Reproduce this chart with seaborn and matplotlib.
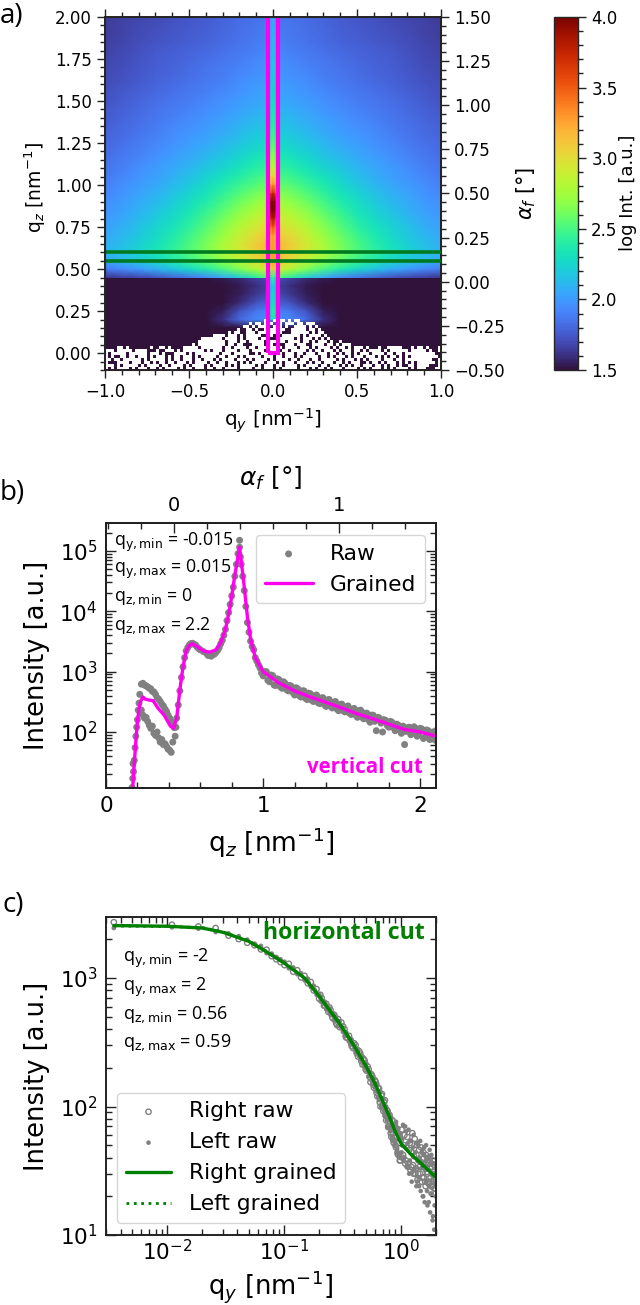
import numpy as np
import matplotlib
matplotlib.use("Agg")
import matplotlib.pyplot as plt
import seaborn as sns

from matplotlib.colors import ListedColormap
from matplotlib.patches import Rectangle
from matplotlib.ticker import MultipleLocator, LogLocator, NullFormatter

W, H = 640, 1305

# panel a: log intensity, columns |qy| = 0, 0.1 ... 1.0, rows qz = 2.00 ... 0.45
map_upper = [
    [1.86, 1.84, 1.82, 1.79, 1.76, 1.74, 1.72, 1.70, 1.68, 1.66, 1.64],
    [1.88, 1.86, 1.83, 1.80, 1.77, 1.75, 1.73, 1.71, 1.69, 1.67, 1.65],
    [1.90, 1.87, 1.84, 1.81, 1.78, 1.76, 1.74, 1.72, 1.70, 1.67, 1.65],
    [1.91, 1.88, 1.85, 1.82, 1.79, 1.77, 1.75, 1.73, 1.71, 1.68, 1.66],
    [1.93, 1.90, 1.87, 1.84, 1.81, 1.79, 1.77, 1.75, 1.72, 1.69, 1.67],
    [1.95, 1.92, 1.89, 1.86, 1.83, 1.80, 1.78, 1.76, 1.73, 1.70, 1.68],
    [1.97, 1.94, 1.91, 1.88, 1.85, 1.82, 1.79, 1.77, 1.74, 1.71, 1.69],
    [1.99, 1.96, 1.93, 1.89, 1.86, 1.83, 1.80, 1.78, 1.75, 1.72, 1.70],
    [2.02, 1.99, 1.95, 1.91, 1.88, 1.85, 1.82, 1.79, 1.76, 1.73, 1.71],
    [2.05, 2.01, 1.97, 1.93, 1.90, 1.87, 1.84, 1.81, 1.78, 1.75, 1.72],
    [2.08, 2.04, 2.00, 1.96, 1.92, 1.89, 1.86, 1.83, 1.80, 1.76, 1.73],
    [2.12, 2.07, 2.03, 1.98, 1.94, 1.91, 1.88, 1.85, 1.81, 1.78, 1.75],
    [2.15, 2.11, 2.06, 2.01, 1.97, 1.93, 1.90, 1.86, 1.83, 1.79, 1.76],
    [2.19, 2.15, 2.09, 2.04, 1.99, 1.95, 1.92, 1.88, 1.84, 1.81, 1.78],
    [2.23, 2.19, 2.13, 2.07, 2.02, 1.98, 1.94, 1.90, 1.86, 1.82, 1.79],
    [2.28, 2.23, 2.17, 2.11, 2.05, 2.01, 1.96, 1.92, 1.88, 1.84, 1.81],
    [2.33, 2.28, 2.22, 2.15, 2.09, 2.04, 1.99, 1.94, 1.90, 1.86, 1.82],
    [2.39, 2.34, 2.27, 2.20, 2.13, 2.07, 2.02, 1.97, 1.92, 1.88, 1.84],
    [2.45, 2.40, 2.33, 2.25, 2.18, 2.11, 2.05, 2.00, 1.95, 1.90, 1.86],
    [2.52, 2.47, 2.39, 2.31, 2.23, 2.15, 2.08, 2.02, 1.97, 1.92, 1.88],
    [2.60, 2.54, 2.46, 2.37, 2.28, 2.19, 2.12, 2.05, 2.00, 1.95, 1.90],
    [2.68, 2.62, 2.53, 2.43, 2.33, 2.24, 2.16, 2.09, 2.03, 1.97, 1.92],
    [2.76, 2.70, 2.60, 2.49, 2.38, 2.29, 2.20, 2.12, 2.06, 2.00, 1.95],
    [2.84, 2.78, 2.67, 2.55, 2.44, 2.33, 2.24, 2.16, 2.09, 2.02, 1.97],
    [2.94, 2.86, 2.74, 2.61, 2.49, 2.38, 2.28, 2.20, 2.12, 2.05, 2.00],
    [3.03, 2.94, 2.81, 2.67, 2.54, 2.42, 2.32, 2.24, 2.16, 2.08, 2.02],
    [3.12, 3.02, 2.87, 2.72, 2.59, 2.47, 2.36, 2.27, 2.19, 2.11, 2.05],
    [3.20, 3.08, 2.92, 2.77, 2.63, 2.51, 2.40, 2.31, 2.22, 2.14, 2.08],
    [3.22, 3.08, 2.92, 2.77, 2.64, 2.52, 2.42, 2.33, 2.24, 2.16, 2.10],
    [3.15, 3.00, 2.84, 2.70, 2.57, 2.46, 2.36, 2.27, 2.19, 2.11, 2.05],
    [2.95, 2.80, 2.64, 2.50, 2.38, 2.27, 2.17, 2.08, 2.00, 1.93, 1.88],
    [2.60, 2.40, 2.20, 2.05, 1.92, 1.85, 1.78, 1.72, 1.68, 1.65, 1.62],
]

# same columns, rows qz = 0.45 ... -0.10 (below the horizon)
map_lower = [
    [1.72, 1.66, 1.58, 1.53, 1.50, 1.50, 1.50, 1.50, 1.50, 1.50, 1.50],
    [1.68, 1.60, 1.53, 1.50, 1.50, 1.50, 1.50, 1.50, 1.50, 1.50, 1.50],
    [1.72, 1.63, 1.54, 1.50, 1.50, 1.50, 1.50, 1.50, 1.50, 1.50, 1.50],
    [1.80, 1.72, 1.58, 1.50, 1.50, 1.50, 1.50, 1.50, 1.50, 1.50, 1.50],
    [1.92, 1.86, 1.72, 1.54, 1.50, 1.50, 1.50, 1.50, 1.50, 1.50, 1.50],
    [1.96, 1.92, 1.82, 1.60, 1.50, 1.50, 1.50, 1.50, 1.50, 1.50, 1.50],
    [1.50, 1.50, 1.50, 1.50, 1.50, 1.50, 1.50, 1.50, 1.50, 1.50, 1.50],
    [1.50, 1.50, 1.50, 1.50, 1.50, 1.50, 1.50, 1.50, 1.50, 1.50, 1.50],
    [1.50, 1.50, 1.50, 1.50, 1.50, 1.50, 1.50, 1.50, 1.50, 1.50, 1.50],
    [1.50, 1.50, 1.50, 1.50, 1.50, 1.50, 1.50, 1.50, 1.50, 1.50, 1.50],
    [1.50, 1.50, 1.50, 1.50, 1.50, 1.50, 1.50, 1.50, 1.50, 1.50, 1.50],
    [1.50, 1.50, 1.50, 1.50, 1.50, 1.50, 1.50, 1.50, 1.50, 1.50, 1.50],
]

# narrow stripe along qy = 0, columns |qy| = 0, 0.015, 0.03, rows qz = 2.00 ... 0.20
map_stripe = [
    [2.05, 2.00, 1.88], [2.07, 2.02, 1.90], [2.09, 2.04, 1.92], [2.11, 2.06, 1.93],
    [2.13, 2.08, 1.95], [2.15, 2.10, 1.97], [2.17, 2.12, 1.99], [2.19, 2.14, 2.01],
    [2.22, 2.17, 2.04], [2.25, 2.20, 2.07], [2.28, 2.23, 2.10], [2.32, 2.27, 2.14],
    [2.36, 2.31, 2.17], [2.41, 2.35, 2.21], [2.47, 2.40, 2.25], [2.54, 2.47, 2.30],
    [2.62, 2.55, 2.35], [2.72, 2.64, 2.41], [2.85, 2.76, 2.47], [3.05, 2.95, 2.54],
    [3.35, 3.20, 2.62], [3.75, 3.60, 2.70], [4.00, 3.95, 2.78], [4.00, 3.95, 2.86],
    [3.85, 3.70, 2.96], [3.55, 3.40, 3.05], [3.30, 3.22, 3.14], [3.28, 3.22, 3.20],
    [3.30, 3.25, 3.22], [3.28, 3.20, 3.15], [3.10, 3.02, 2.95], [2.45, 2.30, 2.10],
    [2.20, 2.10, 1.75], [2.25, 2.15, 1.78], [2.30, 2.20, 1.85], [2.40, 2.30, 2.00],
    [2.35, 2.20, 2.00],
]

# empty detector cells at the bottom of the map, # = no data
mask_rows = [
    "",
    ".....................................................##.#.##.#.##",
    "................................................#.##.###.##.###.##.###",
    "..............................................##.#.####.###.#..####.#.#",
    "............................................#..##.#..####.##..#####.##.#",
    ".........................................#.##..###.######.#...######.#.##",
    "....................................####.###.#.#####..##.#.######.#.####.#",
    "................................#######.####.#.####.###...#####.#.###.#.#.#",
    "...............................#########.###.##.#####.###.##.####.##.#.###.#..#",
    ".............................#.#########.##.##...####.##.#..###.###..####.##.#.###",
    "....##.#.......#..##.#....#####.#######.##.####.##.###.##.#.####.###.#.####.#.##.#.###.#...#..#####...#.##.#...##",
    "###.#####.####...#..###.#.#######.#.###.####.###.####.####.##.#####.#.##.###.#.###.##.#.####.#.######.#####.#..#",
    "#.#####.######.###.#...####.#.########.###.#####..#.###.###.###.##.###.###.##.#.##.#.###.####.##.##.##########...",
    "#.#..##.##.###.#.###.#.##.###.#.#####.##.###.#.#####.###.##.###.#.#####.##.#.###.#.###.###.#.#.##.#.#.#########.#",
    "##.##.######.#.#####.#.##.###.##.###.#.####.###.#.####.#.####.##.###.##.#####.#.###.#.#.####.###.##.#########..#.",
    "#...####.###.##.#.##.##.###.#.####.##.##.###.#.#.####.###.#.###.###.#.##.###.##.#.###..#.##.#.###.#.#.#.######.#.",
    "###.#.#####.#.####.##.####.#.####.#.####.#.#.#####.#.###.##.####.#.####.##.###.#.#.##.###.##.#.##.#..##.####...#.",
    "#.#.####.#.###.##.#.####.#.##.###.##.##.####.####.##.###.#.#####.###.#.##.#.###.####.#.#.###.#.#.####.#.###...##",
]
n_mask_cols = 112

# panel b: raw points by section of the curve
rise_q = [0.165, 0.17, 0.172, 0.175, 0.18, 0.185, 0.19, 0.195, 0.20, 0.205, 0.21, 0.215]
rise_i = [12, 17, 30, 22, 34, 55, 85, 120, 160, 230, 300, 420]
upper_q = [0.225, 0.235, 0.245, 0.255, 0.265, 0.275, 0.285, 0.295, 0.305, 0.315, 0.325, 0.335, 0.345, 0.355, 0.365, 0.375, 0.385, 0.395, 0.405, 0.415, 0.425, 0.435]
upper_i = [620, 640, 600, 580, 560, 530, 520, 470, 460, 420, 370, 350, 320, 290, 270, 240, 220, 190, 170, 150, 130, 118]
lower_q = [0.225, 0.235, 0.245, 0.255, 0.265, 0.275, 0.285, 0.295, 0.305, 0.315, 0.325, 0.335, 0.345, 0.355, 0.365, 0.375, 0.385, 0.395, 0.405, 0.415, 0.425]
lower_i = [230, 190, 170, 175, 150, 130, 115, 125, 95, 88, 100, 80, 68, 75, 62, 64, 58, 52, 50, 46, 68]
peak_q = [0.44, 0.445, 0.45, 0.46, 0.47, 0.48, 0.49, 0.50, 0.51, 0.52, 0.53, 0.54, 0.55, 0.56, 0.57, 0.58, 0.59, 0.60, 0.62, 0.64, 0.65, 0.66, 0.67, 0.68, 0.69, 0.70, 0.71, 0.72, 0.73, 0.74, 0.75, 0.76, 0.77, 0.78, 0.79, 0.80, 0.81, 0.82, 0.83, 0.84, 0.85, 0.85, 0.855, 0.86, 0.87, 0.88, 0.89, 0.90, 0.91, 0.92, 0.93]
peak_i = [85, 120, 170, 280, 480, 800, 1200, 1700, 2200, 2500, 2750, 2900, 2950, 2850, 2750, 2550, 2400, 2300, 2150, 2000, 1850, 1900, 1800, 1950, 1950, 2100, 2250, 2500, 2900, 3300, 4000, 5000, 7000, 9500, 13000, 18000, 25000, 38000, 60000, 90000, 150000, 115000, 80000, 60000, 38000, 22000, 12000, 6500, 4500, 3200, 2600]
tail_q = [0.94, 0.96, 0.98, 1.00, 1.02, 1.04, 1.06, 1.08, 1.10, 1.12, 1.14, 1.16, 1.18, 1.20, 1.22, 1.24, 1.26, 1.28, 1.30, 1.32, 1.34, 1.36, 1.38, 1.40, 1.42, 1.44, 1.46, 1.48, 1.50, 1.52, 1.54, 1.56, 1.58, 1.60, 1.62, 1.64, 1.66, 1.68, 1.70, 1.72, 1.74, 1.76, 1.78, 1.80, 1.82, 1.84, 1.86, 1.88, 1.90, 1.92, 1.94, 1.96, 1.98, 2.00, 2.02, 2.04, 2.06, 2.08, 2.10, 2.10]
tail_i = [2300, 1500, 1150, 850, 1000, 680, 860, 590, 740, 530, 640, 480, 570, 410, 520, 380, 480, 345, 430, 320, 410, 295, 370, 265, 345, 250, 320, 225, 290, 215, 270, 195, 245, 175, 230, 165, 205, 145, 190, 105, 170, 100, 155, 120, 145, 105, 130, 95, 62, 118, 90, 122, 85, 115, 78, 108, 75, 100, 72, 105]
tail_low_q = [0.95, 0.99, 1.03, 1.07, 1.11, 1.15, 1.19, 1.23, 1.27, 1.31, 1.35, 1.39, 1.43, 1.47, 1.51, 1.55, 1.59, 1.63, 1.67, 1.71, 1.75, 1.79, 1.83, 1.87, 1.91, 1.95, 1.99, 2.03, 2.07]
tail_low_i = [1700, 950, 720, 600, 560, 500, 450, 400, 360, 335, 305, 285, 265, 240, 225, 205, 190, 175, 160, 150, 140, 128, 118, 108, 102, 98, 92, 82, 78]
tail_high_q = [0.97, 1.01, 1.05, 1.09, 1.13, 1.17, 1.21, 1.25, 1.29, 1.33, 1.37, 1.41, 1.45, 1.49, 1.53, 1.57, 1.61, 1.65, 1.69, 1.73, 1.77, 1.81, 1.85, 1.89, 1.93, 1.97, 2.01, 2.05, 2.09]
tail_high_i = [1300, 1000, 880, 760, 680, 590, 540, 480, 440, 400, 365, 340, 310, 285, 260, 240, 225, 205, 190, 175, 160, 150, 135, 125, 120, 115, 112, 105, 98]

grained_b_q = [0.17, 0.18, 0.19, 0.20, 0.21, 0.22, 0.235, 0.25, 0.27, 0.30, 0.33, 0.37, 0.41, 0.43, 0.45, 0.47, 0.49, 0.51, 0.53, 0.55, 0.58, 0.62, 0.66, 0.70, 0.73, 0.76, 0.79, 0.82, 0.85, 0.86, 0.88, 0.90, 0.92, 0.95, 1.00, 1.10, 1.20, 1.30, 1.40, 1.50, 1.60, 1.70, 1.80, 1.90, 2.00, 2.10]
grained_b_i = [12, 30, 70, 150, 240, 320, 380, 350, 340, 330, 250, 190, 125, 115, 170, 500, 1200, 2200, 2700, 2900, 2600, 2200, 2100, 2300, 3000, 5000, 12000, 40000, 115000, 70000, 25000, 8000, 3500, 1700, 1000, 650, 480, 380, 310, 250, 200, 165, 135, 110, 100, 85]

# panel c: raw points, right and left of the beam stop share the qy grid
cut_q = [0.0035, 0.011, 0.0185, 0.026, 0.0335, 0.041, 0.0485, 0.056, 0.0635, 0.071, 0.0785, 0.086, 0.0935, 0.101,
         0.11, 0.12, 0.13, 0.14, 0.15, 0.16, 0.17, 0.18, 0.19, 0.20,
         0.21, 0.22, 0.23, 0.24, 0.25, 0.26, 0.27, 0.28, 0.29, 0.30,
         0.32, 0.34, 0.36, 0.38, 0.40, 0.42, 0.44, 0.46, 0.48, 0.50,
         0.52, 0.54, 0.56, 0.58, 0.60, 0.62, 0.64, 0.66, 0.68, 0.70,
         0.72, 0.74, 0.76, 0.78, 0.80, 0.82, 0.84, 0.86, 0.88, 0.90,
         0.92, 0.94, 0.96, 0.98, 1.00, 1.03, 1.06, 1.09, 1.12, 1.15,
         1.18, 1.21, 1.24, 1.27, 1.30, 1.33, 1.36, 1.39, 1.42, 1.45,
         1.48, 1.51, 1.54, 1.57, 1.60, 1.63, 1.66, 1.69, 1.72, 1.75,
         1.78, 1.81, 1.84, 1.87, 1.90, 1.93, 1.96, 1.99]
right_raw = [2720, 2600, 2520, 2450, 2140, 2010, 1880, 1800, 1670, 1660, 1480, 1400, 1330, 1260,
             1290, 1120, 1150, 1010, 1040, 910, 930, 800, 820, 690,
             700, 610, 630, 545, 565, 490, 515, 445, 480, 415,
             420, 345, 355, 295, 310, 260, 270, 225, 235, 195,
             205, 170, 178, 148, 160, 128, 140, 108, 122, 98,
             108, 85, 94, 70, 86, 62, 72, 55, 66, 50,
             58, 43, 52, 38, 55, 40, 50, 36, 48, 34,
             46, 32, 44, 35, 41, 30, 42, 27, 38, 34,
             37, 26, 39, 28, 35, 24, 33, 30, 36, 26,
             33, 24, 34, 26, 31, 23, 30, 27]
left_raw = [2450, 2480, 2420, 2280, 2230, 2120, 1990, 1850, 1780, 1560, 1550, 1460, 1400, 1340,
            1190, 1210, 1070, 1090, 960, 990, 850, 870, 740, 750,
            650, 660, 570, 590, 515, 535, 465, 490, 430, 460,
            380, 380, 320, 330, 285, 280, 245, 250, 210, 220,
            190, 185, 160, 165, 140, 145, 118, 128, 100, 115,
            92, 98, 78, 88, 70, 78, 58, 68, 54, 72,
            44, 64, 42, 60, 40, 56, 38, 70, 34, 52,
            30, 54, 26, 48, 32, 44, 24, 52, 28, 40,
            22, 44, 20, 42, 18, 38, 26, 17, 40, 24,
            15, 36, 21, 13, 30, 11, 25, 20]

# more of the cloud at large qy, between the points above
dense_q = [0.205, 0.225, 0.245, 0.265, 0.285, 0.31, 0.33, 0.35, 0.37, 0.39,
           0.41, 0.43, 0.45, 0.47, 0.49, 0.51, 0.53, 0.55, 0.57, 0.59,
           0.61, 0.63, 0.65, 0.67, 0.69, 0.71, 0.73, 0.75, 0.77, 0.79,
           0.81, 0.83, 0.85, 0.87, 0.89, 0.91, 0.93, 0.95, 0.97, 0.99,
           1.015, 1.045, 1.075, 1.105, 1.135, 1.165, 1.195, 1.225, 1.255, 1.285,
           1.315, 1.345, 1.375, 1.405, 1.435, 1.465, 1.495, 1.525, 1.555, 1.585,
           1.615, 1.645, 1.675, 1.705, 1.735, 1.765, 1.795, 1.825, 1.855, 1.885,
           1.915, 1.945, 1.975]
right_dense = [740, 610, 590, 520, 430, 450, 400, 340, 330, 285,
               300, 245, 258, 212, 228, 190, 195, 155, 172, 140,
               155, 120, 138, 100, 125, 92, 112, 78, 92, 70,
               82, 58, 78, 52, 72, 48, 66, 42, 60, 38,
               66, 42, 60, 38, 58, 36, 52, 34, 62, 30,
               56, 33, 50, 30, 46, 30, 48, 28, 44, 34,
               26, 42, 31, 40, 25, 38, 28, 36, 24, 38,
               27, 35, 23]
left_dense = [660, 650, 540, 470, 470, 405, 355, 355, 305, 310,
              265, 280, 232, 245, 205, 215, 172, 185, 150, 165,
              132, 150, 112, 130, 105, 115, 85, 100, 68, 88,
              64, 80, 56, 70, 50, 76, 46, 68, 40, 62,
              44, 72, 40, 64, 34, 66, 38, 54, 31, 60,
              33, 52, 26, 50, 24, 54, 33, 46, 20, 48,
              32, 50, 22, 40, 18, 46, 21, 42, 29, 14,
              36, 17, 30]

grained_c_q = [0.0035, 0.01, 0.02, 0.03, 0.05, 0.07, 0.10, 0.15, 0.20, 0.30, 0.40, 0.50, 0.60, 0.70, 0.80, 0.90, 1.00, 1.20, 1.50, 2.00]
right_grained = [2560, 2530, 2450, 2270, 1930, 1610, 1310, 1000, 720, 440, 295, 208, 152, 110, 83, 63, 52, 43, 36, 28]
left_grained = [2540, 2520, 2470, 2290, 1950, 1630, 1320, 1010, 730, 450, 300, 212, 150, 112, 82, 64, 50, 44, 35, 29]

sns.set_style("ticks")
plt.rcParams['font.family'] = ['DejaVu Sans']
plt.rcParams['text.color'] = 'black'
plt.rcParams['axes.labelcolor'] = 'black'
plt.rcParams['xtick.color'] = 'black'
plt.rcParams['ytick.color'] = 'black'
plt.rcParams['mathtext.fontset'] = 'custom'
plt.rcParams['mathtext.rm'] = 'DejaVu Sans'
plt.rcParams['mathtext.it'] = 'DejaVu Sans:italic'
plt.rcParams['mathtext.bf'] = 'DejaVu Sans:bold'

fig = plt.figure(figsize=(W / 100, H / 100), dpi=100)


def px_axes(left, top, right, bottom):
    return fig.add_axes([left / W, 1 - bottom / H, (right - left) / W, (bottom - top) / H])


def px_text(x, y, s, **kw):
    kw.setdefault('va', 'center')
    fig.text(x / W, 1 - y / H, s, **kw)


def mirrored(rows):
    # the map is symmetric about qy = 0 within what can be read, only one side is typed
    return np.array([r[:0:-1] + r for r in rows])


def style_frame(ax):
    for spine in ax.spines.values():
        spine.set_visible(True)
        spine.set_linewidth(1.4)
        spine.set_color('#222222')


# ---------- panel a
ax_a = px_axes(105, 17, 441, 370)
cax = px_axes(554, 17, 578, 370)
qz_range = 2.1


def map_layer(x0, x1, z_top, z_bottom, values, **kw):
    lay = ax_a.inset_axes([(x0 + 1) / 2, (z_bottom + 0.1) / qz_range, (x1 - x0) / 2, (z_top - z_bottom) / qz_range])
    sns.heatmap(values, ax=lay, cmap='turbo', vmin=1.5, vmax=4.0, shading='gouraud',
                xticklabels=False, yticklabels=False, **kw)
    lay.set_xlim(0, values.shape[1] - 1)
    lay.set_ylim(values.shape[0] - 1, 0)
    lay.axis('off')
    lay.set_zorder(0.5)
    return lay


upper_lay = map_layer(-1, 1, 2.0, 0.45, mirrored(map_upper), cbar=True, cbar_ax=cax)
map_layer(-1, 1, 0.45, -0.1, mirrored(map_lower), cbar=False)
map_layer(-0.03, 0.03, 2.0, 0.2, mirrored(map_stripe), cbar=False)

hole_lay = ax_a.inset_axes([0, 0, 1, 18 * 3 / 353])
holes = np.array([[c == '#' for c in row.ljust(n_mask_cols, '.')[:n_mask_cols]] for row in mask_rows], dtype=float)
sns.heatmap(holes, ax=hole_lay, cmap=ListedColormap(['white']), mask=holes == 0, cbar=False,
            xticklabels=False, yticklabels=False)
hole_lay.axis('off')
hole_lay.set_zorder(0.6)

ax_a.add_patch(Rectangle((-0.03, 0.0), 0.06, 2.2, fill=False, edgecolor='#ff00ee', linewidth=3, zorder=3))
for qz in [0.55, 0.60]:
    ax_a.axhline(qz, color='#007a20', linewidth=2.6, zorder=3)

ax_a.set_xlim(-1, 1)
ax_a.set_ylim(-0.1, 2.0)
ax_a.set_xticks([-1.0, -0.5, 0.0, 0.5, 1.0])
ax_a.set_yticks(np.arange(0, 2.01, 0.25))
ax_a.set_yticklabels(['%.2f' % v for v in np.arange(0, 2.01, 0.25)])
ax_a.xaxis.set_minor_locator(MultipleLocator(0.1))
ax_a.yaxis.set_minor_locator(MultipleLocator(0.05))
ax_a.tick_params(which='both', direction='out', top=True, labelsize=12, width=1.0, color='#222222')
ax_a.tick_params(which='major', length=6)
ax_a.tick_params(which='minor', length=3.5)
style_frame(ax_a)

ax_a2 = ax_a.twinx()
ax_a2.set_ylim(-0.5, 1.5)
ax_a2.set_yticks(np.arange(-0.5, 1.51, 0.25))
ax_a2.set_yticklabels([('%.2f' % v).replace('-', '\u2212') for v in np.arange(-0.5, 1.51, 0.25)])
ax_a2.yaxis.set_minor_locator(MultipleLocator(0.05))
ax_a2.tick_params(which='both', direction='out', labelsize=12, width=1.0, color='#222222')
ax_a2.tick_params(which='major', length=6)
ax_a2.tick_params(which='minor', length=3.5)

cb = upper_lay.collections[0].colorbar
cb.set_ticks([1.5, 2.0, 2.5, 3.0, 3.5, 4.0])
cax.yaxis.set_minor_locator(MultipleLocator(0.1))
cax.tick_params(which='both', direction='out', labelsize=12, width=1.0, color='#222222')
cax.tick_params(which='major', length=6)
cax.tick_params(which='minor', length=3.5)
cb.outline.set_linewidth(1.0)

px_text(35, 188, r'q$_z$ [nm$^{-1}$]', fontsize=13.5, rotation=90, ha='center')
px_text(273, 421, r'q$_y$ [nm$^{-1}$]', fontsize=14.5, ha='center')
px_text(526, 193, r'$\alpha_f$ [°]', fontsize=15, rotation=90, ha='center')
px_text(628, 193, 'log Int. [a.u.]', fontsize=13, rotation=90, ha='center')

# ---------- panel b
ax_b = px_axes(106, 523, 436, 788)
raw_b_q = np.concatenate([rise_q, upper_q, lower_q, peak_q, tail_q, tail_low_q, tail_high_q])
raw_b_i = np.concatenate([rise_i, upper_i, lower_i, peak_i, tail_i, tail_low_i, tail_high_i])
sns.scatterplot(x=raw_b_q, y=raw_b_i, ax=ax_b, color='gray', s=25, edgecolor='none', label='Raw')
sns.lineplot(x=grained_b_q, y=grained_b_i, ax=ax_b, color='#ff00ee', linewidth=2.4, label='Grained', errorbar=None)
ax_b.set_yscale('log')
ax_b.set_xlim(0, 2.1)
ax_b.set_ylim(11.8, 2.9e5)
ax_b.set_xticks([0, 1, 2])
ax_b.xaxis.set_minor_locator(MultipleLocator(0.2))
ax_b.legend(loc='upper right', bbox_to_anchor=(0.967, 0.955), borderaxespad=0, fontsize=15.7, handlelength=2.2,
            frameon=True, framealpha=0.8, edgecolor='#cccccc', labelspacing=0.5, borderpad=0.4)
ax_b2 = ax_b.twiny()
ax_b2.set_xlim(-0.41, 1.59)
ax_b2.set_xticks([0, 1])
ax_b2.xaxis.set_minor_locator(MultipleLocator(0.2))

# ---------- panel c
ax_c = px_axes(106, 917, 436, 1235)
sns.scatterplot(x=np.concatenate([cut_q, dense_q]), y=np.concatenate([right_raw, right_dense]), ax=ax_c, s=15,
                facecolor='none', edgecolor='gray', linewidth=1.0, label='Right raw')
sns.scatterplot(x=np.concatenate([cut_q, dense_q]), y=np.concatenate([left_raw, left_dense]), ax=ax_c,
                color='gray', s=11, edgecolor='none', label='Left raw')
sns.lineplot(x=grained_c_q, y=right_grained, ax=ax_c, color='green', linewidth=2.4, label='Right grained', errorbar=None)
sns.lineplot(x=grained_c_q, y=left_grained, ax=ax_c, color='green', linewidth=2.0, linestyle=':', label='Left grained', errorbar=None)
ax_c.set_xscale('log')
ax_c.set_yscale('log')
ax_c.set_xlim(0.003, 2.0)
ax_c.set_ylim(10, 2985)
ax_c.legend(loc='lower left', bbox_to_anchor=(0.033, 0.038), borderaxespad=0, fontsize=15.7, handlelength=2.1,
            frameon=True, framealpha=0.8, edgecolor='#cccccc', labelspacing=0.5, borderpad=0.4)

for ax in [ax_b, ax_c]:
    style_frame(ax)
    ax.tick_params(which='both', direction='in', top=ax is ax_c, right=True, labelsize=15.5, width=1.0, color='#222222', pad=6)
    ax.tick_params(which='major', length=7)
    ax.tick_params(which='minor', length=4)
    ax.yaxis.set_major_locator(LogLocator(base=10, numticks=10))
    ax.yaxis.set_minor_locator(LogLocator(base=10, subs=np.arange(2, 10), numticks=12))
    ax.yaxis.set_minor_formatter(NullFormatter())
ax_c.xaxis.set_minor_locator(LogLocator(base=10, subs=np.arange(2, 10), numticks=12))
ax_c.xaxis.set_minor_formatter(NullFormatter())
ax_c.tick_params(axis='x', which='both', pad=3)
style_frame(ax_b2)
ax_b2.tick_params(which='both', direction='in', labelsize=14, width=1.0, color='#222222', pad=6)
ax_b2.tick_params(which='major', length=7)
ax_b2.tick_params(which='minor', length=4)

px_text(271, 478, r'$\alpha_f$ [°]', fontsize=18, ha='center')
px_text(271, 843, r'q$_z$ [nm$^{-1}$]', fontsize=19, ha='center')
px_text(271, 1287, r'q$_y$ [nm$^{-1}$]', fontsize=18.5, ha='center')
px_text(37, 655, 'Intensity [a.u.]', fontsize=18.5, rotation=90, ha='center')
px_text(37, 1076, 'Intensity [a.u.]', fontsize=18.5, rotation=90, ha='center')

annot_b = [r'q$_{\mathrm{y,min}}$ = -0.015', r'q$_{\mathrm{y,max}}$ = 0.015',
           r'q$_{\mathrm{z,min}}$ = 0', r'q$_{\mathrm{z,max}}$ = 2.2']
annot_c = [r'q$_{\mathrm{y,min}}$ = -2', r'q$_{\mathrm{y,max}}$ = 2',
           r'q$_{\mathrm{z,min}}$ = 0.56', r'q$_{\mathrm{z,max}}$ = 0.59']
for txt, y in zip(annot_b, [542, 569, 597, 626]):
    px_text(114, y, txt, fontsize=12.8, family='Open Sans')
for txt, y in zip(annot_c, [958, 987, 1015, 1043]):
    px_text(123, y, txt, fontsize=13, family='Open Sans')
px_text(423, 767, 'vertical cut', fontsize=14.8, color='#ff00ee', fontweight='bold', ha='right', family='Open Sans')
px_text(425, 933, 'horizontal cut', fontsize=16.7, color='green', fontweight='bold', ha='right', family='Open Sans')

for lab, x, y in [('a)', 0, 16), ('b)', 0, 493), ('c)', 2, 905)]:
    px_text(x, y, lab, fontsize=20, family='Open Sans')

plt.savefig('out.png', dpi=100)
